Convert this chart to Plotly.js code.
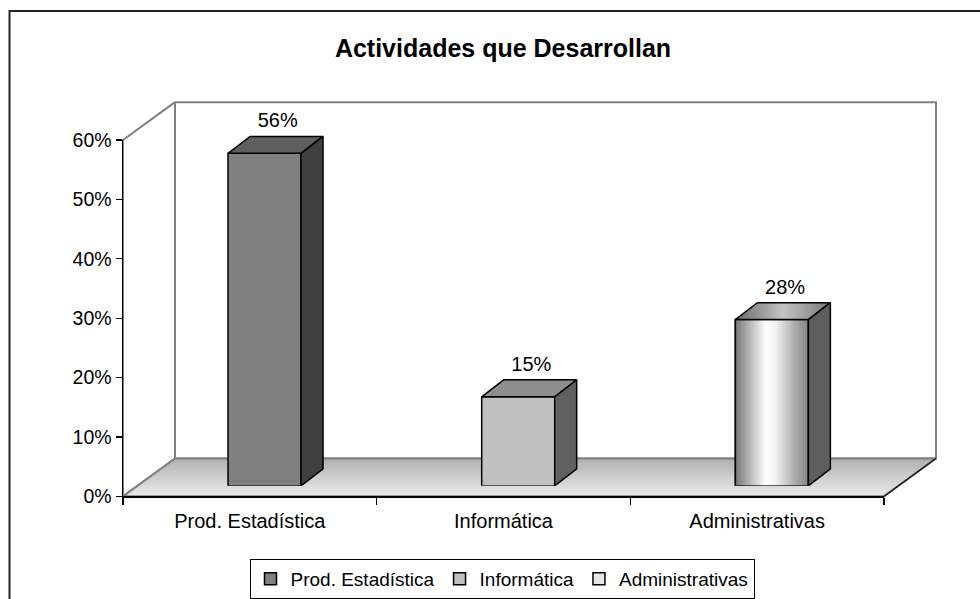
<!DOCTYPE html>
<html>
<head>
<meta charset="utf-8">
<script src="https://cdn.plot.ly/plotly-3.0.1.min.js"></script>
<style>html,body{margin:0;padding:0;background:#fff;}#chart{width:980px;height:599px;}</style>
</head>
<body>
<div id="chart"></div>
<script>
// ---- data ----
const categories = ['Prod. Estadística', 'Informática', 'Administrativas'];
const values = [0.56, 0.15, 0.28];
const valueLabels = ['56%', '15%', '28%'];
const yTickVals = [0, 0.1, 0.2, 0.3, 0.4, 0.5, 0.6];
const yTickText = ['0%', '10%', '20%', '30%', '40%', '50%', '60%'];
const chartTitle = 'Actividades que Desarrollan';

// ---- styles ----
const frontColors = ['#808080', '#c0c0c0', '#e6e6e6'];
const topColors = ['#5f5f5f', '#8f8f8f', '#9a9a9a'];
const sideColors = ['#404040', '#606060', '#5e5e5e'];
const FONT = 'Liberation Sans, Arial, sans-serif';

// ---- geometry (pixels) ----
const W = 980, H = 599;
const plotL = 123, plotR = 884, plotB = 498, plotT = 140.5; // front plane of axes
const depthX = 52, depthY = 38;       // floor depth
const barShiftX = 14.7, barShiftY = 10.5; // bar front plane offset
const barPx = 73, barDepthX = 22, barDepthY = 17;
const labelLiftPx = 4;
const yMax = 0.6;

const pxPerCat = (plotR - plotL) / categories.length;
const pxPerUnit = (plotB - plotT) / yMax;
const barW = barPx / pxPerCat;
const dx = barDepthX / pxPerCat;
const dy = barDepthY / pxPerUnit;

const fx = p => p / W;
const fy = p => 1 - p / H;

const traces = [];

// ---- decoration: walls and floor (pixel axis xy) ----
const bL = plotL + depthX, bR = plotR + depthX, bB = plotB - depthY, bT = plotT - depthY;
traces.push({
  type: 'scatter', mode: 'lines', xaxis: 'x', yaxis: 'y',
  x: [bL, bR, bR, bL, bL], y: [bT, bT, bB, bB, bT],
  fill: 'toself', fillcolor: '#ffffff', line: {color: '#808080', width: 2},
  hoverinfo: 'skip', showlegend: false
});
traces.push({
  type: 'scatter', mode: 'lines', xaxis: 'x', yaxis: 'y',
  x: [plotL, bL, bL, plotL, plotL], y: [plotT, bT, bB, plotB, plotT],
  fill: 'toself', fillcolor: '#ffffff', line: {color: '#808080', width: 2},
  hoverinfo: 'skip', showlegend: false
});
traces.push({
  type: 'scatter', mode: 'lines', xaxis: 'x', yaxis: 'y',
  x: [plotL, plotR, bR, bL, plotL], y: [plotB, plotB, bB, bB, plotB],
  fill: 'toself',
  fillgradient: {type: 'vertical', start: bB, stop: plotB,
    colorscale: [[0, '#b0b0b0'], [1, '#ebebeb']]},
  line: {color: '#808080', width: 2},
  hoverinfo: 'skip', showlegend: false
});
traces.push({
  type: 'scatter', mode: 'lines', xaxis: 'x', yaxis: 'y',
  x: [plotR, bR], y: [plotB, bB], line: {color: '#222', width: 1.5},
  hoverinfo: 'skip', showlegend: false
});

// ---- value axes (x2y2) ----
traces.push({
  type: 'scatter', mode: 'markers', xaxis: 'x2', yaxis: 'y2',
  x: categories, y: values, marker: {opacity: 0},
  hoverinfo: 'skip', showlegend: false
});

// ---- bars (x3y3, front plane of bars) ----
categories.forEach((c, i) => {
  traces.push({
    type: 'bar', xaxis: 'x3', yaxis: 'y3', name: c,
    x: [i], y: [values[i]], width: barW,
    marker: {color: frontColors[i], line: {color: '#000', width: 1.5}},
    hoverinfo: 'skip', showlegend: true
  });
});
categories.forEach((c, i) => {
  const v = values[i], l = i - barW / 2, r = i + barW / 2;
  const isGrad = i === 2;
  if (isGrad) {
    traces.push({
      type: 'scatter', mode: 'lines', xaxis: 'x3', yaxis: 'y3',
      x: [l, r, r, l, l], y: [0, 0, v, v, 0], fill: 'toself',
      fillgradient: {type: 'horizontal',
        colorscale: [[0, '#767676'], [0.2, '#b8b8b8'], [0.42, '#ffffff'], [0.55, '#f2f2f2'], [0.8, '#b0b0b0'], [1, '#828282']]},
      line: {color: '#000', width: 1.5}, hoverinfo: 'skip', showlegend: false
    });
  }
  const top = {
    type: 'scatter', mode: 'lines', xaxis: 'x3', yaxis: 'y3',
    x: [l, r, r + dx, l + dx, l], y: [v, v, v + dy, v + dy, v], fill: 'toself',
    line: {color: '#000', width: 1.5}, hoverinfo: 'skip', showlegend: false
  };
  if (isGrad) top.fillgradient = {type: 'horizontal',
    colorscale: [[0, '#6a6a6a'], [0.5, '#c4c4c4'], [1, '#777777']]};
  else top.fillcolor = topColors[i];
  traces.push(top);
  traces.push({
    type: 'scatter', mode: 'lines', xaxis: 'x3', yaxis: 'y3',
    x: [r, r + dx, r + dx, r, r], y: [0, dy, v + dy, v, 0], fill: 'toself',
    fillcolor: sideColors[i],
    line: {color: '#000', width: 1.5}, hoverinfo: 'skip', showlegend: false
  });
});
// value labels
traces.push({
  type: 'scatter', mode: 'text', xaxis: 'x3', yaxis: 'y3',
  x: categories.map((c, i) => i + dx * 0.6),
  y: values.map(v => v + dy + labelLiftPx / pxPerUnit),
  text: valueLabels, textposition: 'top center',
  textfont: {family: FONT, size: 20, color: '#000'}, cliponaxis: false,
  hoverinfo: 'skip', showlegend: false
});

const layout = {
  width: W, height: H,
  margin: {l: 0, r: 0, t: 0, b: 0},
  paper_bgcolor: '#ffffff', plot_bgcolor: 'rgba(0,0,0,0)',
  font: {family: FONT, size: 20, color: '#000'},
  hovermode: false, barmode: 'overlay', showlegend: true,
  title: {text: chartTitle, x: 503 / W, xanchor: 'center', y: fy(48), yanchor: 'middle',
    font: {family: FONT, size: 25, color: '#000', weight: 'bold'}},
  xaxis: {domain: [0, 1], range: [0, W], visible: false, fixedrange: true},
  yaxis: {domain: [0, 1], range: [H, 0], visible: false, fixedrange: true},
  xaxis2: {domain: [fx(plotL), fx(plotR)], anchor: 'y2', type: 'category',
    categoryorder: 'array', categoryarray: categories, range: [-0.5, categories.length - 0.5],
    tickson: 'boundaries', ticks: 'outside', ticklen: 7, tickwidth: 1.2, tickcolor: '#000',
    ticklabelstandoff: 6,
    showline: true, linecolor: '#000', linewidth: 1.5, showgrid: false, zeroline: false,
    tickfont: {family: FONT, size: 20, color: '#000'}, fixedrange: true},
  yaxis2: {domain: [fy(plotB), fy(plotT)], anchor: 'x2', range: [0, yMax],
    tickvals: yTickVals, ticktext: yTickText, ticks: 'outside', ticklen: 6, tickwidth: 1.2,
    tickcolor: '#000', showline: true, linecolor: '#000', linewidth: 1.5,
    showgrid: false, zeroline: false, tickfont: {family: FONT, size: 19.5, color: '#000'},
    fixedrange: true},
  xaxis3: {domain: [fx(plotL + barShiftX), fx(plotR + barShiftX)], anchor: 'y3',
    range: [-0.5, categories.length - 0.5], visible: false, fixedrange: true},
  yaxis3: {domain: [fy(plotB - barShiftY), fy(plotT - barShiftY)], anchor: 'x3',
    range: [0, yMax], visible: false, fixedrange: true},
  legend: {orientation: 'h', x: fx(502), xanchor: 'center', y: fy(561), yanchor: 'top',
    bordercolor: '#000', borderwidth: 1, bgcolor: '#ffffff',
    font: {family: FONT, size: 19, color: '#000'}, itemwidth: 30, tracegroupgap: 0},
  shapes: [{type: 'rect', xref: 'paper', yref: 'paper',
    x0: fx(9.5), x1: 1.05, y0: -0.05, y1: fy(11),
    line: {color: '#222', width: 2}, fillcolor: 'rgba(0,0,0,0)', layer: 'above'}]
};

Plotly.newPlot('chart', traces, layout, {displayModeBar: false, staticPlot: true});
</script>
</body>
</html>
